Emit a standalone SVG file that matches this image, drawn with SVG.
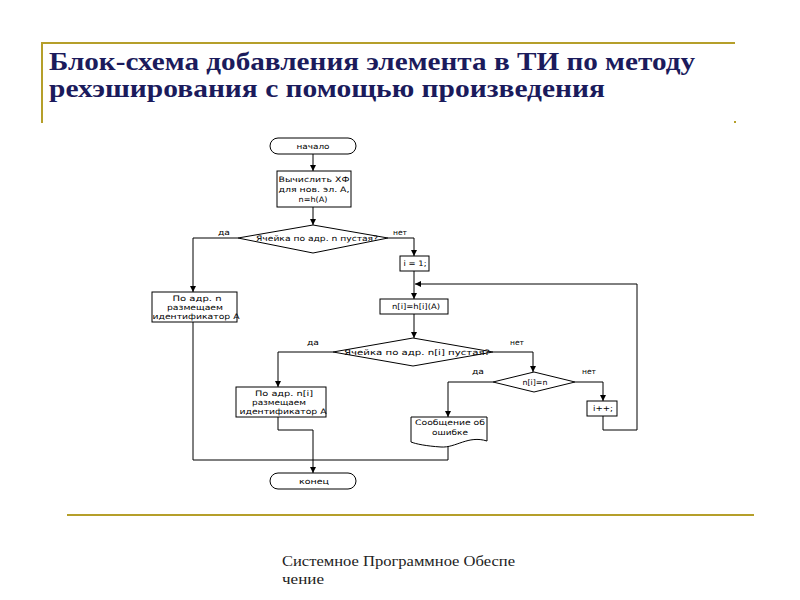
<svg xmlns="http://www.w3.org/2000/svg" width="800" height="600" viewBox="0 0 800 600">
<defs>
<marker id="arr" markerUnits="userSpaceOnUse" markerWidth="6" markerHeight="6" refX="6" refY="3" orient="auto">
<path d="M0,0 L6,3 L0,6 z" fill="#000"/>
</marker>
<style>
.title{font-family:"Liberation Serif","DejaVu Serif",serif;font-weight:bold;font-size:26px;fill:#1B1B5C}
.foot{font-family:"Liberation Serif","DejaVu Serif",serif;font-size:14px;fill:#222}
.gold{stroke:#B59F2A;stroke-width:2;fill:none}
.shape{fill:#fff;stroke:#000;stroke-width:1}
.t{font-family:"DejaVu Sans","Liberation Sans",sans-serif;font-size:7.5px;fill:#000;text-anchor:middle}
.lbl{font-family:"DejaVu Sans","Liberation Sans",sans-serif;font-size:7.5px;fill:#000}
.c{fill:none;stroke:#000;stroke-width:1}
.ca{fill:none;stroke:#000;stroke-width:1;marker-end:url(#arr)}
</style>
</defs>
<rect width="800" height="600" fill="#fff"/>
<g id="frame">
<path class="gold" d="M42,123 V43 H735"/>
<rect x="734" y="121" width="2" height="2" fill="#B59F2A"/>
<line class="gold" x1="67" y1="515" x2="754" y2="515"/>
</g>
<g id="title">
<text class="title" x="49" y="70" textLength="646" lengthAdjust="spacingAndGlyphs">Блок-схема добавления элемента в ТИ по методу</text>
<text class="title" x="49" y="97" textLength="556" lengthAdjust="spacingAndGlyphs">рехэширования с помощью произведения</text>
</g>
<g id="footer">
<text class="foot" x="282" y="566" textLength="233" lengthAdjust="spacingAndGlyphs">Системное Программное Обеспе</text>
<text class="foot" x="282" y="584" textLength="42" lengthAdjust="spacingAndGlyphs">чение</text>
</g>
<g id="connectors">
<path class="ca" d="M313,154 V171"/>
<path class="ca" d="M313,207 V225"/>
<path class="ca" d="M238,238 H193 V292"/>
<path class="ca" d="M388,238 H414 V256"/>
<path class="ca" d="M414,271 V299"/>
<path class="ca" d="M414,314 V338"/>
<path class="ca" d="M333,352 H278 V387"/>
<path class="ca" d="M493,352 H533 V372"/>
<path class="ca" d="M493,382 H448 V417"/>
<path class="ca" d="M575,382 H603 V401"/>
<path class="ca" d="M603,416 V430 H637 V284 H415"/>
<path class="c" d="M448,444 V460 H193 V322"/>
<path class="ca" d="M278,417 V430 H313 V473"/>
<text class="lbl" x="218" y="235" textLength="12" lengthAdjust="spacingAndGlyphs">да</text>
<text class="lbl" x="393" y="235" textLength="14" lengthAdjust="spacingAndGlyphs">нет</text>
<text class="lbl" x="307" y="345" textLength="12" lengthAdjust="spacingAndGlyphs">да</text>
<text class="lbl" x="510" y="345" textLength="14" lengthAdjust="spacingAndGlyphs">нет</text>
<text class="lbl" x="472" y="374" textLength="12" lengthAdjust="spacingAndGlyphs">да</text>
<text class="lbl" x="582" y="374" textLength="14" lengthAdjust="spacingAndGlyphs">нет</text>
</g>
<g id="start">
<rect class="shape" x="270" y="138" width="86" height="16" rx="8"/>
<text class="t" x="313" y="149" textLength="33" lengthAdjust="spacingAndGlyphs">начало</text>
</g>
<g id="compute">
<rect class="shape" x="277" y="171" width="74" height="36"/>
<text class="t" x="314" y="182" textLength="71" lengthAdjust="spacingAndGlyphs">Вычислить ХФ</text>
<text class="t" x="314" y="192" textLength="71" lengthAdjust="spacingAndGlyphs">для нов. эл. А,</text>
<text class="t" x="313" y="202" textLength="29" lengthAdjust="spacingAndGlyphs">n=h(A)</text>
</g>
<g id="cond1">
<polygon class="shape" points="313,225 388,238 313,253 238,238"/>
<text class="t" x="317" y="241" textLength="122" lengthAdjust="spacingAndGlyphs">Ячейка по адр. n пустая?</text>
</g>
<g id="store1">
<rect class="shape" x="152" y="292" width="85" height="30"/>
<text class="t" x="197" y="301" textLength="49" lengthAdjust="spacingAndGlyphs">По адр. n</text>
<text class="t" x="195" y="310" textLength="56" lengthAdjust="spacingAndGlyphs">размещаем</text>
<text class="t" x="196" y="319" textLength="87" lengthAdjust="spacingAndGlyphs">идентификатор А</text>
</g>
<g id="init">
<rect class="shape" x="400" y="256" width="29" height="15"/>
<text class="t" x="415" y="266" textLength="23" lengthAdjust="spacingAndGlyphs">i = 1;</text>
</g>
<g id="hash">
<rect class="shape" x="380" y="299" width="68" height="15"/>
<text class="t" x="416" y="309" textLength="48" lengthAdjust="spacingAndGlyphs">n[i]=h[i](A)</text>
</g>
<g id="cond2">
<polygon class="shape" points="413,338 493,352 413,366 333,352"/>
<text class="t" x="417" y="355" textLength="146" lengthAdjust="spacingAndGlyphs">Ячейка по адр. n[i] пустая?</text>
</g>
<g id="store2">
<rect class="shape" x="236" y="387" width="90" height="30"/>
<text class="t" x="284" y="396" textLength="58" lengthAdjust="spacingAndGlyphs">По адр. n[i]</text>
<text class="t" x="279" y="405" textLength="54" lengthAdjust="spacingAndGlyphs">размещаем</text>
<text class="t" x="283" y="414" textLength="87" lengthAdjust="spacingAndGlyphs">идентификатор А</text>
</g>
<g id="cond3">
<polygon class="shape" points="534,372 575,382 534,392 493,382"/>
<text class="t" x="535" y="385" textLength="25" lengthAdjust="spacingAndGlyphs">n[i]=n</text>
</g>
<g id="error">
<path class="shape" d="M411,417 H487 V441 C468,435 456,448 441,447 C426,446 416,444 411,442 Z"/>
<text class="t" x="450" y="425" textLength="70" lengthAdjust="spacingAndGlyphs">Сообщение об</text>
<text class="t" x="450" y="435" textLength="36" lengthAdjust="spacingAndGlyphs">ошибке</text>
</g>
<g id="inc">
<rect class="shape" x="587" y="401" width="30" height="15"/>
<text class="t" x="603" y="411" textLength="20" lengthAdjust="spacingAndGlyphs">i++;</text>
</g>
<g id="end">
<rect class="shape" x="270" y="473" width="86" height="16" rx="8"/>
<text class="t" x="314" y="484" textLength="30" lengthAdjust="spacingAndGlyphs">конец</text>
</g>
</svg>
